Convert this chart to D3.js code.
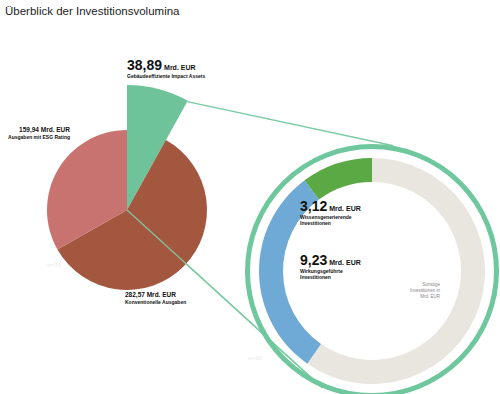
<!DOCTYPE html>
<html>
<head>
<meta charset="utf-8">
<script src="https://cdn.jsdelivr.net/npm/d3@7"></script>
<style>
  body { margin: 0; background: #fff; }
  text { font-family: "Liberation Sans", Arial, sans-serif; }
</style>
</head>
<body>
<script>
// chart size
var width = 500
var height = 394

// data: left pie
const pieLabels = ["Gebäudeeffiziente Impact Assets", "Konventionelle Ausgaben", "Ausgaben mit ESG Rating"]
const pieValues = [38.89, 282.57, 159.94]
const pieValueText = ["38,89", "282,57", "159,94"]
const pieColors = ["#6fc39b", "#a3573f", "#c87370"]

// data: right donut (breakdown of the green slice)
const donutLabels = ["Sonstige", "Wirkungsgeführte Investitionen", "Wissensgenerierende Investitionen"]
const donutValues = [18.3, 9.23, 3.12]
const donutValueText = ["", "9,23", "3,12"]
const donutColors = ["#e8e6df", "#6eaad5", "#5aa944"]

const sampleLabels = ["n=74", "n=30"]

const svg = d3.select("body").append("svg")
    .attr("width", width)
    .attr("height", height)

// title
svg.append("text")
    .attr("x", 5).attr("y", 15)
    .attr("font-size", "11.5px")
    .attr("fill", "#222")
    .text("Überblick der Investitionsvolumina")

// ---- pie ----
const pc = {x: 127, y: 210}
const pieR = 80
const pieRBig = 125

const pie = d3.pie().sort(null).value(d => d)
const pieArcs = pie(pieValues)

const arcSmall = d3.arc().innerRadius(0).outerRadius(pieR)
const arcBig = d3.arc().innerRadius(0).outerRadius(pieRBig)

// ---- donut ----
const dc = {x: 372, y: 271}
const ringR = 127
const donutOuter = 113
const donutInner = 89

// connector lines (drawn first, under the shapes)
const a0 = pieArcs[0].endAngle
const tipPt = [pc.x + (pieRBig - 1) * Math.sin(a0), pc.y - (pieRBig - 1) * Math.cos(a0)]
const ringPt = a => [dc.x + ringR * Math.sin(a), dc.y - ringR * Math.cos(a)]
const end1 = ringPt(0.17)
const end2 = ringPt(-2.74)
const conn = svg.append("g")
    .attr("stroke", "#7ccaa3")
    .attr("stroke-width", 1.5)
conn.append("line")
    .attr("x1", tipPt[0]).attr("y1", tipPt[1])
    .attr("x2", end1[0]).attr("y2", end1[1])
conn.append("line")
    .attr("x1", pc.x).attr("y1", pc.y)
    .attr("x2", end2[0]).attr("y2", end2[1])

const pg = svg.append("g").attr("transform", "translate(" + pc.x + "," + pc.y + ")")
pg.selectAll("path")
    .data(pieArcs)
    .enter()
    .append("path")
    .attr("d", (d, i) => i === 0 ? arcBig(d) : arcSmall(d))
    .attr("fill", (d, i) => pieColors[i])

// connector again on top of the pie
svg.append("line")
    .attr("x1", pc.x).attr("y1", pc.y)
    .attr("x2", end2[0]).attr("y2", end2[1])
    .attr("stroke", "#7ccaa3").attr("stroke-width", 1.2)

// outer thin ring
svg.append("circle")
    .attr("cx", dc.x).attr("cy", dc.y)
    .attr("r", ringR - 2.5)
    .attr("fill", "none")
    .attr("stroke", "#6fc79e")
    .attr("stroke-width", 5)

const donut = d3.pie().sort(null).value(d => d)
const donutArc = d3.arc().innerRadius(donutInner).outerRadius(donutOuter)
const dg = svg.append("g").attr("transform", "translate(" + dc.x + "," + dc.y + ")")
dg.selectAll("path")
    .data(donut(donutValues))
    .enter()
    .append("path")
    .attr("d", donutArc)
    .attr("fill", (d, i) => donutColors[i])

// ---- labels ----
function bigLabel(x, y, num, sub) {
    const g = svg.append("g")
    const t = g.append("text")
        .attr("x", x).attr("y", y)
        .attr("fill", "#111")
    t.append("tspan").attr("font-size", "14px").attr("font-weight", "bold").text(num)
    t.append("tspan").attr("font-size", "7px").attr("font-weight", "bold").attr("dx", 2).text("Mrd. EUR")
    sub.forEach((s, i) => {
        g.append("text")
            .attr("x", x).attr("y", y + 8 + i * 6)
            .attr("font-size", "5px").attr("font-weight", "bold")
            .attr("fill", "#111")
            .text(s)
    })
}
function smallLabel(x, y, num, sub, anchor) {
    svg.append("text")
        .attr("x", x).attr("y", y)
        .attr("font-size", "6.5px").attr("font-weight", "bold")
        .attr("fill", "#111").attr("text-anchor", anchor)
        .text(num + " Mrd. EUR")
    svg.append("text")
        .attr("x", x).attr("y", y + 7)
        .attr("font-size", "5px").attr("font-weight", "bold")
        .attr("fill", "#111").attr("text-anchor", anchor)
        .text(sub)
}

bigLabel(127, 70, pieValueText[0], [pieLabels[0]])
smallLabel(70, 132, pieValueText[2], pieLabels[2], "end")
smallLabel(125, 297, pieValueText[1], pieLabels[1], "start")

bigLabel(300, 211, donutValueText[2], ["Wissensgenerierende", "Investitionen"])
bigLabel(300, 265, donutValueText[1], ["Wirkungsgeführte", "Investitionen"])

// tiny grey note for the remaining part
const note = ["Sonstige", "Investitionen in", "Mrd. EUR"]
note.forEach((s, i) => {
    svg.append("text")
        .attr("x", 440).attr("y", 286 + i * 6)
        .attr("text-anchor", "end")
        .attr("font-size", "4.5px")
        .attr("fill", "#888")
        .text(s)
})

// sample sizes
svg.append("text").attr("x", 47).attr("y", 267)
    .attr("font-size", "6px").attr("font-weight", "bold").attr("fill", "#eee")
    .text(sampleLabels[0])
svg.append("text").attr("x", 248).attr("y", 360)
    .attr("font-size", "6px").attr("font-weight", "bold").attr("fill", "#eee")
    .text(sampleLabels[1])
</script>
</body>
</html>
